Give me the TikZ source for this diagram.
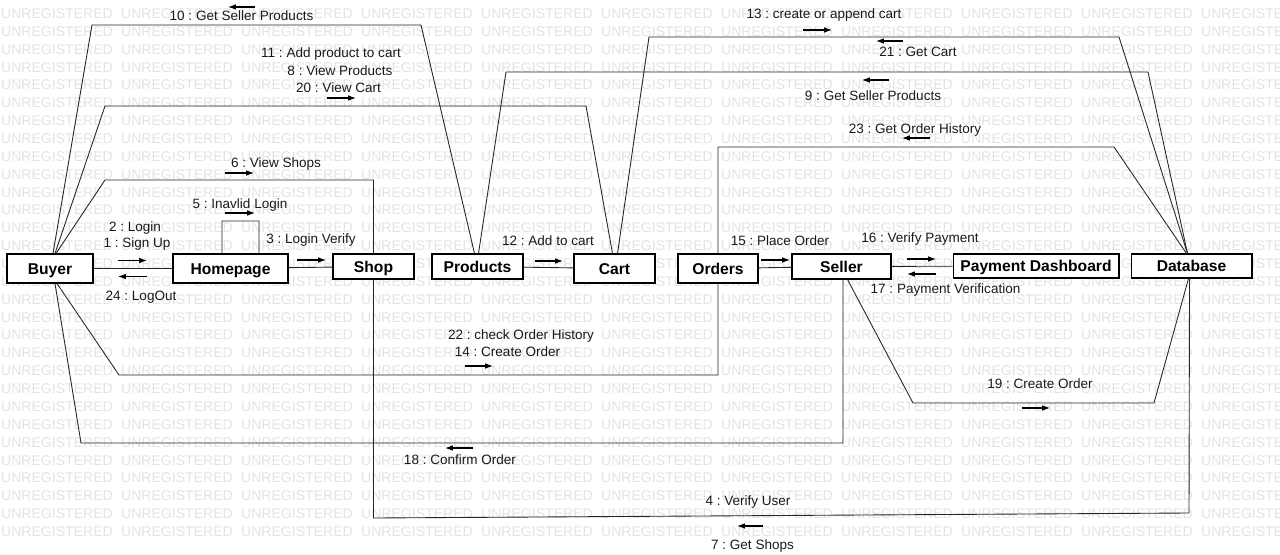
\documentclass[tikz,border=0pt]{standalone}
\usepackage{fontspec}
\setmainfont{Liberation Sans}
\usepackage{tikz}
\usetikzlibrary{calc}
\usetikzlibrary{arrows.meta,positioning}
\frenchspacing
\tikzstyle{Obj}=[shape=rectangle,draw=black,fill=white,line width=0.6pt,inner sep=0pt,text height=6.4pt,text depth=0pt,font=\fontsize{8.9}{10}\selectfont\bfseries]
\tikzstyle{link}=[draw=black!85,line width=0.5pt]
\tikzstyle{msg}=[-{Latex[length=4.5pt,width=3.2pt]},black,line width=0.6pt]
\tikzstyle{lbl}=[inner sep=0pt,text height=5.5pt,text depth=0pt,text=black!90,font=\fontsize{7.7}{9}\selectfont]
\tikzstyle{wm}=[inner sep=0pt,text height=5.7pt,text depth=0pt,text=black!11,font=\fontsize{8}{9}\selectfont]

\begin{document}
\begin{tikzpicture}[x=0.02cm,y=-0.02cm]
\useasboundingbox (0,0) rectangle (1280,554);

% background stamp
\foreach \r in {0,...,29}
 \foreach \c in {0,...,10}
  \node[wm] (W\r-\c) at (57+\c*120,13.5+\r*17.86) {UNREGISTERED};

% objects
\node[Obj,minimum width=1.72cm,minimum height=0.58cm] (BUYER) at (50,268.5){Buyer};
\node[Obj,minimum width=2.30cm,minimum height=0.58cm] (HOME) at (230.5,268.5){Homepage};
\node[Obj,minimum width=1.62cm,minimum height=0.50cm] (SHOP) at (373.5,266.5){Shop};
\node[Obj,minimum width=1.82cm,minimum height=0.50cm] (PRODUCTS) at (477.5,266.5){Products};
\node[Obj,minimum width=1.62cm,minimum height=0.58cm] (CART) at (614.5,268.5){Cart};
\node[Obj,minimum width=1.60cm,minimum height=0.58cm] (ORDERS) at (718,268.5){Orders};
\node[Obj,minimum width=1.98cm,minimum height=0.50cm] (SELLER) at (841.5,266.5){Seller};
\node[Obj,minimum width=3.32cm,minimum height=0.48cm] (PAYDASH) at (1036,266){Payment Dashboard};
\node[Obj,minimum width=2.42cm,minimum height=0.48cm] (DB) at (1191.5,266){Database};

% links
\path
(BUYER) edge [link] (HOME)
(HOME) edge [link] (SHOP)
(PRODUCTS) edge [link] (CART)
(ORDERS) edge [link] (SELLER)
(SELLER) edge [link] (PAYDASH);

\draw[link] ($(BUYER.north)+(3,0)$) -- (92,25) -- (421,25) -- ($(PRODUCTS.north)+(-3,0)$);
\draw[link] ($(BUYER.north)+(5,0)$) -- (105,106) -- (586,106) -- ($(CART.north)+(-2,0)$);
\draw[link] ($(BUYER.north)+(6,0)$) -- (105,180) -- (373.5,180) -- (SHOP.north);
\draw[link] ($(HOME.north)+(-8.5,0)$) -- (222,221) -- (259,221) -- ($(HOME.north)+(28.5,0)$);
\draw[link] ($(BUYER.south)+(7,0)$) -- (119,375) -- (718,375) -- (ORDERS.south);
\draw[link] ($(BUYER.south)+(5,0)$) -- (81,443) -- (843,443) -- ($(SELLER.south)+(1.5,0)$);
\draw[link] ($(PRODUCTS.north)+(1,0)$) -- (506,72) -- (1148,72) -- ($(DB.north)+(-4,0)$);
\draw[link] ($(CART.north)+(3,0)$) -- (649,37) -- (1119,37) -- ($(DB.north)+(-4,0)$);
\draw[link] (ORDERS.north) -- (718,147) -- (1114,147) -- ($(DB.north)+(-5,0)$);
\draw[link] ($(SELLER.south)+(6,0)$) -- (913,403) -- (1154,403) -- ($(DB.south)+(-3,0)$);
\draw[link] (SHOP.south) -- (373.5,518) -- (1189,513) -- ($(DB.south)+(-2,0)$);

% messages
\node[lbl] (M10) at (241.5,16) {10 : Get Seller Products};
\draw[msg] (255,7) -- (228,7);
\node[lbl] (M11) at (331,53) {11 : Add product to cart};
\node[lbl] (M8) at (340,71) {8 : View Products};
\node[lbl] (M20) at (338.5,88) {20 : View Cart};
\draw[msg] (327,98) -- (356,98);
\node[lbl] (M6) at (276,163) {6 : View Shops};
\draw[msg] (225,173) -- (254,173);
\node[lbl] (M5) at (240,204) {5 : Inavlid Login};
\draw[msg] (225,213) -- (255,213);
\node[lbl] (M2) at (135,227) {2 : Login};
\node[lbl] (M1) at (137,243) {1 : Sign Up};
\draw[msg] (118,260.5) -- (147,260.5);
\draw[msg] (147,276.5) -- (118,276.5);
\node[lbl] (M24) at (141,296) {24 : LogOut};
\node[lbl] (M3) at (311,239) {3 : Login Verify};
\draw[msg] (297,260) -- (326,260);
\node[lbl] (M12) at (548,241) {12 : Add to cart};
\draw[msg] (535,261) -- (563,261);
\node[lbl] (M15) at (780,241) {15 : Place Order};
\draw[msg] (761,260) -- (790,260);
\node[lbl] (M16) at (920,238) {16 : Verify Payment};
\draw[msg] (907,259) -- (936,259);
\draw[msg] (936,274) -- (907,274);
\node[lbl] (M17) at (945.5,289) {17 : Payment Verification};
\node[lbl] (M13) at (824,14) {13 : create or append cart};
\draw[msg] (803,30) -- (832,30);
\node[lbl] (M21) at (918,52) {21 : Get Cart};
\draw[msg] (903,41) -- (876,41);
\node[lbl] (M9) at (873,96) {9 : Get Seller Products};
\draw[msg] (889,80) -- (862,80);
\node[lbl] (M23) at (915,129) {23 : Get Order History};
\draw[msg] (930,138) -- (902,138);
\node[lbl] (M22) at (521,335) {22 : check Order History};
\node[lbl] (M14) at (507.5,352) {14 : Create Order};
\draw[msg] (465,366) -- (493,366);
\node[lbl] (M19) at (1040,384) {19 : Create Order};
\draw[msg] (1022,408) -- (1050,408);
\node[lbl] (M18) at (460,460) {18 : Confirm Order};
\draw[msg] (473,448) -- (445,448);
\node[lbl] (M4) at (748,501) {4 : Verify User};
\node[lbl] (M7) at (752.5,545) {7 : Get Shops};
\draw[msg] (763,526) -- (737,526);

\end{tikzpicture}
\end{document}
